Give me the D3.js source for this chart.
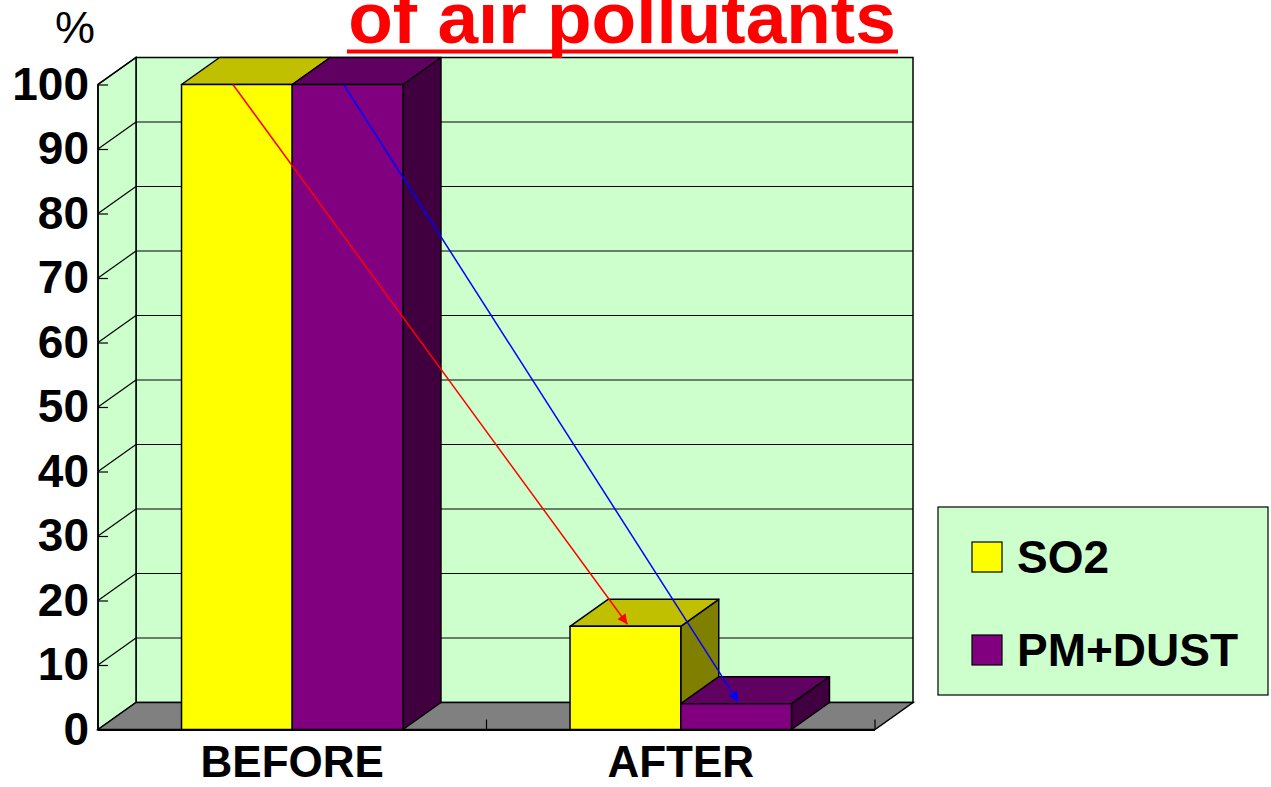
<!DOCTYPE html>
<html>
<head>
<meta charset="utf-8">
<script src="https://cdn.jsdelivr.net/npm/d3@7"></script>
<style>
  html, body { margin: 0; padding: 0; background: #ffffff; }
  svg { display: block; }
  text { font-family: "Liberation Sans", Arial, sans-serif; }
</style>
</head>
<body>
<svg id="chart" width="1271" height="787"></svg>
<script>
// ---- data ----
const categories = ["BEFORE", "AFTER"];
const seriesNames = ["SO2", "PM+DUST"];
const so2Values = [100, 16];
const pmValues = [100, 4];
const yTickValues = [0, 10, 20, 30, 40, 50, 60, 70, 80, 90, 100];
const titleText = "of air pollutants";
const unitLabel = "%";

const seriesValues = [so2Values, pmValues];
const faceColors = ["#FFFF00", "#800080"];
const topColors = ["#C0C000", "#600060"];
const sideColors = ["#808000", "#400040"];
const arrowColors = ["#FF0000", "#0000FF"];

// ---- layout ----
const svg = d3.select("#chart");
const dx = 38, dy = -27;           // depth offset of the 3D box
const left = 98, right = 875;

const x = d3.scaleBand().domain(categories).range([left, right])
  .paddingInner(0.43).paddingOuter(0.215);
const xs = d3.scaleBand().domain(seriesNames).range([0, x.bandwidth()]);
const y = d3.scaleLinear().domain([0, 100]).range([729.5, 84.5]);

const y0 = y(0), yTop = y(100);
const pts = a => a.map(p => p.join(",")).join(" ");

// back wall
svg.append("rect")
  .attr("x", left + dx).attr("y", yTop + dy)
  .attr("width", right - left).attr("height", y0 - yTop)
  .attr("fill", "#CCFFCC").attr("stroke", "#000").attr("stroke-width", 1.5);

// side wall
svg.append("polygon")
  .attr("points", pts([[left, y0], [left, yTop], [left + dx, yTop + dy], [left + dx, y0 + dy]]))
  .attr("fill", "#CCFFCC").attr("stroke", "#000").attr("stroke-width", 1.5);

// floor
svg.append("polygon")
  .attr("points", pts([[left, y0], [right, y0], [right + dx, y0 + dy], [left + dx, y0 + dy]]))
  .attr("fill", "#808080").attr("stroke", "#000").attr("stroke-width", 1.5);

// gridlines
const grid = svg.append("g").attr("stroke", "#000").attr("stroke-width", 1.2);
yTickValues.filter(v => v > 0).forEach(v => {
  grid.append("line")
    .attr("x1", left + dx).attr("x2", right + dx)
    .attr("y1", y(v) + dy).attr("y2", y(v) + dy);
  grid.append("line")
    .attr("x1", left).attr("x2", left + dx)
    .attr("y1", y(v)).attr("y2", y(v) + dy);
});

// category boundary ticks (inward, on the floor's front edge)
const boundaries = [left, x(categories[1]) - x.step() * x.paddingInner() / 2, right];
boundaries.forEach(b => {
  svg.append("line").attr("x1", b).attr("x2", b).attr("y1", y0).attr("y2", y0 - 10)
    .attr("stroke", "#000").attr("stroke-width", 1.2);
});

// bars
const bars = svg.append("g");
categories.forEach((cat, ci) => {
  seriesNames.forEach((s, si) => {
    const v = seriesValues[si][ci];
    const x0 = x(cat) + xs(s), x1 = x0 + xs.bandwidth();
    const yt = y(v);
    const g = bars.append("g").attr("stroke", "#000").attr("stroke-width", 1.5).attr("stroke-linejoin", "round");
    g.append("polygon")
      .attr("points", pts([[x1, yt], [x1 + dx, yt + dy], [x1 + dx, y0 + dy], [x1, y0]]))
      .attr("fill", sideColors[si]);
    g.append("polygon")
      .attr("points", pts([[x0, yt], [x1, yt], [x1 + dx, yt + dy], [x0 + dx, yt + dy]]))
      .attr("fill", topColors[si]);
    g.append("rect")
      .attr("x", x0).attr("y", yt).attr("width", x1 - x0).attr("height", y0 - yt)
      .attr("fill", faceColors[si]);
  });
});

// front axis line + floor front edge
svg.append("line").attr("x1", left).attr("x2", left).attr("y1", yTop).attr("y2", y0 + 0.5)
  .attr("stroke", "#000").attr("stroke-width", 1.5);
svg.append("line").attr("x1", left).attr("x2", right).attr("y1", y0 + 0.5).attr("y2", y0 + 0.5)
  .attr("stroke", "#000").attr("stroke-width", 2);

// arrows
const defs = svg.append("defs");
arrowColors.forEach((c, i) => {
  defs.append("marker")
    .attr("id", "arrow" + i)
    .attr("viewBox", "0 0 10 10").attr("refX", 10).attr("refY", 5)
    .attr("markerUnits", "userSpaceOnUse")
    .attr("markerWidth", 13).attr("markerHeight", 10)
    .attr("orient", "auto")
    .append("path").attr("d", "M0,0 L10,5 L0,10 Z").attr("fill", c);
});
seriesNames.forEach((s, si) => {
  const xa = x(categories[0]) + xs(s) + xs.bandwidth() / 2 - 4;
  const xb = x(categories[1]) + xs(s) + xs.bandwidth() / 2 + 2;
  svg.append("line")
    .attr("x1", xa).attr("y1", y(seriesValues[si][0]))
    .attr("x2", xb).attr("y2", y(seriesValues[si][1]) - 2)
    .attr("stroke", arrowColors[si]).attr("stroke-width", 1.5)
    .attr("marker-end", "url(#arrow" + si + ")");
});

// y axis labels
const yAxis = svg.append("g").attr("transform", `translate(${left},0)`)
  .call(d3.axisLeft(y).tickValues(yTickValues).tickSizeInner(-10).tickSizeOuter(0).tickPadding(9));
yAxis.select(".domain").remove();
yAxis.selectAll(".tick line").attr("stroke", "#000").attr("stroke-width", 1.2);
yAxis.selectAll(".tick text")
  .attr("font-family", "'Liberation Sans', Arial, sans-serif")
  .attr("font-size", 46).attr("font-weight", "bold").attr("fill", "#000");

// x axis labels
const xAxis = svg.append("g").attr("transform", `translate(0,${y0})`)
  .call(d3.axisBottom(x).tickSize(0).tickPadding(16));
xAxis.select(".domain").remove();
xAxis.selectAll(".tick text")
  .attr("font-family", "'Liberation Sans', Arial, sans-serif")
  .attr("font-size", 44).attr("font-weight", "bold").attr("fill", "#000");

// unit label
svg.append("text").attr("x", 75).attr("y", 43).attr("text-anchor", "middle")
  .attr("font-size", 45).attr("fill", "#000").text(unitLabel);

// title (partially cut at top, as in the original slide)
svg.append("text").attr("x", 622).attr("y", 43).attr("text-anchor", "middle")
  .attr("font-size", 73).attr("font-weight", "bold").attr("fill", "#FF0000").text(titleText);
svg.append("rect").attr("x", 347).attr("y", 49.5).attr("width", 551).attr("height", 4).attr("fill", "#FF0000");

// legend
const lg = svg.append("g");
lg.append("rect").attr("x", 938).attr("y", 507).attr("width", 330).attr("height", 188)
  .attr("fill", "#CCFFCC").attr("stroke", "#000").attr("stroke-width", 1.2);
const legendY = [542, 635];
seriesNames.forEach((s, si) => {
  lg.append("rect").attr("x", 972).attr("y", legendY[si]).attr("width", 30).attr("height", 30)
    .attr("fill", faceColors[si]).attr("stroke", "#000").attr("stroke-width", 1.2);
  lg.append("text").attr("x", 1017).attr("y", legendY[si] + 31)
    .attr("font-size", 46).attr("font-weight", "bold").attr("fill", "#000").text(s);
});
</script>
</body>
</html>
